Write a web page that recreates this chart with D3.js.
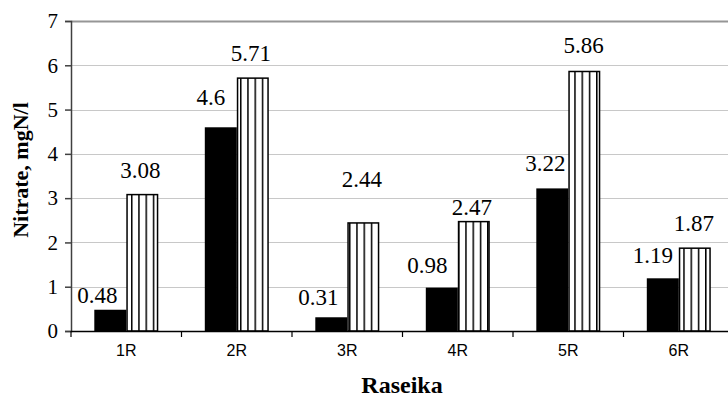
<!DOCTYPE html>
<html><head><meta charset="utf-8">
<script src="https://cdn.jsdelivr.net/npm/d3@7/dist/d3.min.js"></script>
<style>body{margin:0;background:#fff}svg{display:block}</style>
</head><body>
<svg id="c" width="728" height="401"></svg>
<script>
const categories = ["1R","2R","3R","4R","5R","6R"];
const seriesA = [0.48, 4.6, 0.31, 0.98, 3.22, 1.19];   // black bars
const seriesB = [3.08, 5.71, 2.44, 2.47, 5.86, 1.87];  // striped bars
const yTicks = [0,1,2,3,4,5,6,7];
// label placement tweaks (px) relative to bar centre / bar top
const labelDxA = [-13,-10,-13,-14.5,-7,-10];
const labelGapA = [7,22,12,15,17,15];
const labelDxB = [-2,-2,-1.5,-2,-0.6,-1];
const labelGapB = [17,17,36,7,18,17];

(function(){
const SERIF = '"Liberation Serif"';
const SANS = '"Liberation Sans"';
const svg = d3.select("#c");
const pLeft = 71, pRight = 734, pTop = 21, pBottom = 331;
const x0 = d3.scaleBand().domain(categories).range([pLeft, pRight]).padding(0);
const x1 = d3.scaleBand().domain(["A","B"]).range([23.3, 87.3]);
const y = d3.scaleLinear().domain([0,7]).range([pBottom, pTop]);

const defs = svg.append("defs");
const pat = defs.append("pattern").attr("id","stripes").attr("patternUnits","userSpaceOnUse")
  .attr("width",7.267).attr("height",10).attr("x",0.15);
pat.append("rect").attr("width",7.267).attr("height",10).attr("fill","#fff");
pat.append("rect").attr("x",0).attr("width",1.5).attr("height",10).attr("fill","#000");

// gridlines
svg.append("g").selectAll("line").data(yTicks.filter(d=>d>0)).join("line")
  .attr("x1",pLeft).attr("x2",728).attr("y1",d=>Math.round(y(d))+0.5).attr("y2",d=>Math.round(y(d))+0.5)
  .attr("stroke",d=>d===7?"#969696":"#c8c8c8").attr("stroke-width",d=>d===7?2:1);

// bars
const g = svg.append("g");
categories.forEach((c,i)=>{
  const bx = x0(c);
  g.append("rect").attr("x",bx+x1("A")).attr("y",y(seriesA[i])).attr("width",x1.bandwidth())
    .attr("height",y(0)-y(seriesA[i])).attr("fill","#000");
  g.append("rect").attr("x",bx+x1("B")+0.75).attr("y",y(seriesB[i])).attr("width",x1.bandwidth()-1.5)
    .attr("height",y(0)-y(seriesB[i])).attr("fill","url(#stripes)").attr("stroke","#000").attr("stroke-width",1.5);
});

// value labels
const lab = svg.append("g");
function vlabel(xp, yp, v){
  lab.append("text").attr("x",xp).attr("y",yp).attr("text-anchor","middle").attr("fill","#000")
    .style("font-family",SERIF).style("font-size","23px").text(String(v));
}
categories.forEach((c,i)=>{
  const bx = x0(c);
  vlabel(bx+x1("A")+x1.bandwidth()/2+labelDxA[i], y(seriesA[i])-labelGapA[i], seriesA[i]);
  vlabel(bx+x1("B")+x1.bandwidth()/2+labelDxB[i], y(seriesB[i])-labelGapB[i], seriesB[i]);
});

// y axis
const ya = svg.append("g").attr("transform",`translate(${pLeft},0)`)
  .call(d3.axisLeft(y).tickValues(yTicks).tickSize(6).tickPadding(7).tickFormat(d3.format("d")));
ya.select(".domain").attr("stroke","#404040").attr("stroke-width",1.5);
ya.selectAll(".tick line").attr("stroke","#404040").attr("stroke-width",1.5);
ya.selectAll(".tick text").style("font-family",SERIF).style("font-size","21px").attr("fill","#000");

// x axis
const xa = svg.append("g").attr("transform",`translate(0,${pBottom})`)
  .call(d3.axisBottom(x0).tickSize(0).tickPadding(14));
xa.select(".domain").remove();
svg.append("line").attr("x1",pLeft).attr("x2",728).attr("y1",pBottom+0.5).attr("y2",pBottom+0.5).attr("stroke","#000").attr("stroke-width",1.5);
xa.selectAll(".tick text").style("font-family",SANS).style("font-size","16px").attr("fill","#000");
svg.append("g").selectAll("line").data(categories.concat(["end"])).join("line")
  .attr("x1",(d,i)=>pLeft+i*x0.bandwidth()).attr("x2",(d,i)=>pLeft+i*x0.bandwidth())
  .attr("y1",pBottom).attr("y2",pBottom+6).attr("stroke","#000").attr("stroke-width",1.2);

// titles
svg.append("text").attr("transform","translate(28,170) rotate(-90)").attr("text-anchor","middle")
  .style("font-family",SERIF).style("font-weight","bold").style("font-size","22px").text("Nitrate, mgN/l");
svg.append("text").attr("x",402).attr("y",393).attr("text-anchor","middle")
  .style("font-family",SERIF).style("font-weight","bold").style("font-size","24px").text("Raseika");
})();
</script>
</body></html>
